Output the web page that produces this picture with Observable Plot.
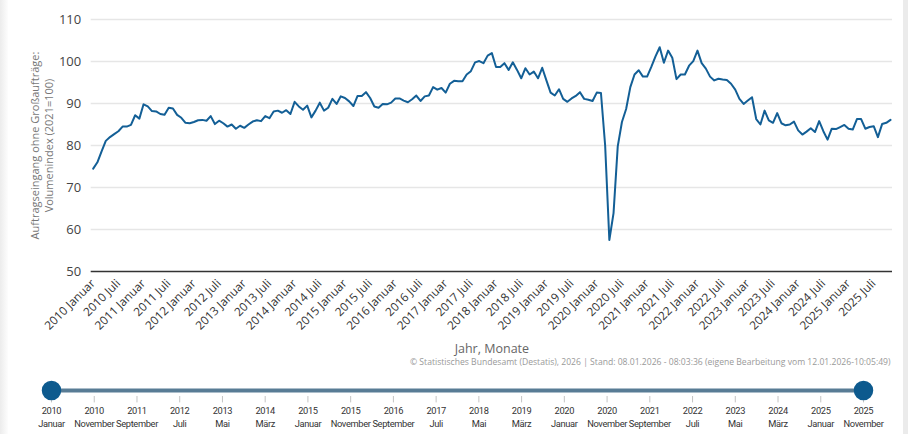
<!DOCTYPE html>
<html><head><meta charset="utf-8">
<script src="https://cdn.jsdelivr.net/npm/d3@7"></script>
<script src="https://cdn.jsdelivr.net/npm/@observablehq/plot@0.6"></script>
<style>
body{margin:0;background:#fff;width:908px;height:434px;overflow:hidden;position:relative;font-family:"Open Sans",sans-serif}
#chart,#slider{position:absolute;left:0;}
#chart{top:0}
#slider{top:370px}
#slider text{letter-spacing:-0.35px}
#edgeL{position:absolute;left:0;top:0;width:8px;height:434px;background:linear-gradient(to right,#ececec,#fdfdfd)}
#edgeR{position:absolute;left:903px;top:0;width:5px;height:434px;background:#ebebeb}
svg{display:block}
</style></head><body>
<div id="chart"></div><div id="slider"></div>
<div id="edgeL"></div><div id="edgeR"></div>
<script>
// Monthly values, 2010 Januar (index 0) .. 2025 November (index 190)
const values = [
  74.5, 76.0, 78.6, 81.1, 82.0, 82.7, 83.4, 84.5, 84.5, 84.9,
  87.2, 86.4, 89.8, 89.3, 88.2, 88.1, 87.5, 87.3, 89.0, 88.8,
  87.3, 86.6, 85.4, 85.3, 85.6, 86.0, 86.1, 85.9, 87.0, 85.1,
  85.9, 85.3, 84.5, 85.0, 84.0, 84.7, 84.2, 85.0, 85.7, 86.0,
  85.8, 87.0, 86.5, 88.1, 88.3, 87.8, 88.4, 87.5, 90.4, 89.3,
  88.5, 89.5, 86.7, 88.3, 90.2, 88.3, 89.0, 91.1, 89.9, 91.7,
  91.3, 90.5, 89.4, 91.8, 91.8, 92.7, 91.3, 89.3, 89.0, 89.9,
  89.8, 90.2, 91.2, 91.2, 90.7, 90.3, 91.0, 91.9, 90.6, 91.7,
  91.9, 93.9, 93.3, 93.7, 92.6, 94.7, 95.4, 95.3, 95.3, 96.9,
  97.7, 99.8, 100.1, 99.6, 101.4, 102.0, 98.7, 98.7, 99.6, 98.0,
  99.8, 98.0, 96.0, 98.4, 96.9, 97.6, 96.0, 98.5, 95.5, 92.6,
  91.9, 93.4, 91.1, 90.4, 91.2, 91.8, 92.7, 91.1, 90.9, 90.6,
  92.6, 92.5, 80.0, 57.5, 63.9, 79.8, 85.6, 88.7, 93.9, 96.9,
  97.9, 96.4, 96.4, 98.7, 101.2, 103.4, 99.7, 102.6, 100.9, 95.8,
  96.9, 96.9, 99.0, 100.1, 102.6, 99.6, 98.3, 96.4, 95.5, 95.9,
  95.7, 95.6, 94.7, 93.3, 91.1, 89.9, 90.7, 91.5, 86.3, 85.0,
  88.3, 86.0, 85.4, 87.7, 85.3, 84.8, 85.0, 85.7, 83.6, 82.6,
  83.3, 84.1, 83.2, 85.8, 83.4, 81.4, 84.0, 83.9, 84.4, 84.9,
  84.0, 83.8, 86.3, 86.3, 84.0, 84.4, 84.6, 82.0, 85.1, 85.4,
  86.1
];
const yTicks = [50, 60, 70, 80, 90, 100, 110];
const tickIdx = [0,6,12,18,24,30,36,42,48,54,60,66,72,78,84,90,96,102,108,114,120,126,132,138,144,150,156,162,168,174,180,186];
const tickLabels = ["2010 Januar","2010 Juli","2011 Januar","2011 Juli","2012 Januar","2012 Juli","2013 Januar","2013 Juli","2014 Januar","2014 Juli","2015 Januar","2015 Juli","2016 Januar","2016 Juli","2017 Januar","2017 Juli","2018 Januar","2018 Juli","2019 Januar","2019 Juli","2020 Januar","2020 Juli","2021 Januar","2021 Juli","2022 Januar","2022 Juli","2023 Januar","2023 Juli","2024 Januar","2024 Juli","2025 Januar","2025 Juli"];
const sliderIdx = [0,10,20,30,40,50,60,70,80,90,100,110,120,130,140,150,160,170,180,190];
const sliderYears = ["2010","2010","2011","2012","2013","2014","2015","2015","2016","2017","2018","2019","2020","2020","2021","2022","2023","2024","2025","2025"];
const sliderMonths = ["Januar","November","September","Juli","Mai","März","Januar","November","September","Juli","Mai","März","Januar","November","September","Juli","Mai","März","Januar","November"];
const yTitle = "Auftragseingang ohne Großaufträge:\nVolumenindex (2021=100)";
const xTitle = "Jahr, Monate";
const caption = "© Statistisches Bundesamt (Destatis), 2026 | Stand: 08.01.2026 - 08:03:36 (eigene Bearbeitung vom 12.01.2026-10:05:49)";

const data = values.map((v, i) => ({i, v}));
const font = "'Open Sans', 'DejaVu Sans', sans-serif";

const chart = Plot.plot({
  width: 908, height: 370,
  marginLeft: 92.7, marginRight: 18, marginTop: 19, marginBottom: 99,
  style: {fontFamily: font, background: "transparent", overflow: "visible"},
  x: {domain: [0, 190], axis: null},
  y: {domain: [50, 110], axis: null},
  marks: [
    Plot.ruleY(yTicks.filter(t => t > 50), {stroke: "#e6e6e6", strokeWidth: 1.5, insetLeft: -2, insetRight: -2}),
    Plot.ruleY([50], {stroke: "#333", strokeWidth: 1.5, insetLeft: -2, insetRight: -2}),
    Plot.axisY(yTicks, {tickSize: 0, tickPadding: 12, fontSize: 13, color: "#444", label: null}),
    Plot.axisX(tickIdx, {tickSize: 0, tickPadding: 10, tickRotate: -45, tickFormat: d => tickLabels[tickIdx.indexOf(d)], fontSize: 11.8, color: "#333", label: null}),
    Plot.line(data, {x: "i", y: "v", stroke: "#135f96", strokeWidth: 2}),
    Plot.text([yTitle], {frameAnchor: "left", textAnchor: "middle", rotate: -90, dx: -52, fontSize: 11, fill: "#777", lineHeight: 1.3}),
    Plot.text([xTitle], {frameAnchor: "bottom", dy: 81, fontSize: 12.5, fill: "#666"}),
    Plot.text([caption], {frameAnchor: "bottom-right", textAnchor: "end", dy: 93, fontSize: 8.6, fill: "#999"})
  ]
});
document.getElementById("chart").append(chart);

const sfont = "'Roboto', 'DejaVu Sans', sans-serif";
const slider = Plot.plot({
  width: 908, height: 64,
  marginLeft: 51, marginRight: 45, marginTop: 20, marginBottom: 24,
  style: {fontFamily: sfont, background: "transparent", overflow: "visible"},
  x: {domain: [0, 190], axis: null},
  y: {domain: [0, 1], range: [20, 40], axis: null},
  marks: [
    Plot.ruleY([0], {x1: 0, x2: 190, stroke: "#587c95", strokeWidth: 4}),
    Plot.ruleX(sliderIdx, {y1: 0.3, y2: 0.62, stroke: "#c4c4c4", strokeWidth: 1}),
    Plot.text(sliderIdx, {x: d => d, text: (d, k) => sliderYears[k], frameAnchor: "top", dy: 16.5, fontSize: 9.3, fill: "#333"}),
    Plot.text(sliderIdx, {x: d => d, text: (d, k) => sliderMonths[k], frameAnchor: "top", dy: 30, fontSize: 9.3, fill: "#333"}),
    Plot.dot([0, 190], {x: d => d, y: 0, r: 9, fill: "#0d5a8e", stroke: "#0d5a8e"})
  ]
});
document.getElementById("slider").append(slider);
</script>
</body></html>
